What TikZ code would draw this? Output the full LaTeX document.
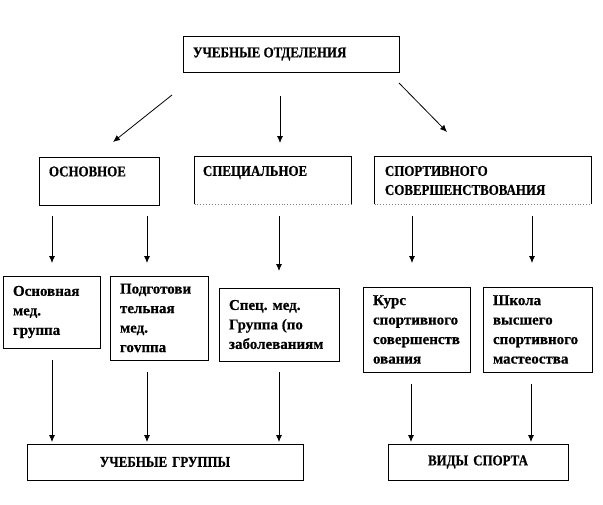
\documentclass[tikz,border=0pt]{standalone}
\usepackage{fontspec}
\setmainfont{Liberation Serif}
\newfontfamily\capsfont{Liberation Serif}[FakeStretch=0.86, FakeBold=0.6]
\newfontfamily\bodyfont{Liberation Serif}[FakeBold=0.5]
\usetikzlibrary{arrows.meta}

\tikzset{
    box/.style={draw, line width=0.9pt, inner xsep=10pt, inner ysep=0pt, align=flush left,
        font=\bodyfont\bfseries\fontsize{15}{19.5}\selectfont},
    head/.style={box, font=\capsfont\bfseries\fontsize{15}{19}\selectfont},
    arr/.style={-{Latex[length=7pt,width=6pt]}, line width=0.8pt},
}

\begin{document}
\begin{tikzpicture}[x=1pt, y=-1pt]

            \useasboundingbox (0,0) rectangle (603,504);

            % top level
            \node[head, minimum width=216pt, minimum height=36pt, text width=196pt] (otd) at (291,54) {УЧЕБНЫЕ ОТДЕЛЕНИЯ};

            % departments
            \node[head, minimum width=120pt, minimum height=48pt, text width=100pt] (osn) at (99,181) {ОСНОВНОЕ\\\phantom{О}};
            \node[head, draw=none, minimum width=156pt, minimum height=47pt, text width=140pt, inner xsep=8pt] (spec) at (273,180.5) {СПЕЦИАЛЬНОЕ\\\phantom{О}};
            \node[head, draw=none, minimum width=216pt, minimum height=47pt, text width=196pt] (sport) at (483,180.5) {СПОРТИВНОГО\\СОВЕРШЕНСТВОВАНИЯ};

            \draw[line width=0.9pt] (spec.south west) -- (spec.north west) -- (spec.north east) -- (spec.south east);
            \draw[gray, dotted, line width=0.9pt] (spec.south west) -- (spec.south east);
            \draw[line width=0.9pt] (sport.south west) -- (sport.north west) -- (sport.north east) -- (sport.south east);
            \draw[gray, dotted, line width=0.9pt] (sport.south west) -- (sport.south east);

            % groups
            \node[box, minimum width=97pt, minimum height=72pt, text width=77pt] (osngr) at (51.5,312) {Основная\\мед.\\группа};
            \node[box, minimum width=98pt, minimum height=84pt, text width=78pt] (podgr) at (159,318) {Подготови\\тельная\\мед.\\гоvппа};
            \node[box, minimum width=120pt, minimum height=73pt, text width=100pt] (specgr) at (279,324.5) {Спец. мед.\\Группа (по\\заболеваниям};
            \node[box, minimum width=107pt, minimum height=85pt, text width=87pt] (kurs) at (416.5,329.5) {Курс\\спортивного\\совершенств\\ования};
            \node[box, minimum width=109pt, minimum height=85pt, text width=89pt] (shk) at (537.5,329.5) {Школа\\высшего\\спортивного\\мастеоства};

            % bottom
            \node[head, align=center, minimum width=276pt, minimum height=36pt, text width=256pt] (uchgr) at (165,462) {УЧЕБНЫЕ ГРУППЫ};
            \node[head, align=center, minimum width=180pt, minimum height=36pt, text width=160pt] (vid) at (478,462) {ВИДЫ СПОРТА};

            % arrow ends
            \coordinate (t1) at (172,95);  \coordinate (t1e) at (113,142);
            \coordinate (t2) at (280,96);  \coordinate (t2e) at (280,143);
            \coordinate (t3) at (399,83);  \coordinate (t3e) at (447,132);

            \coordinate (m1) at (52,216);  \coordinate (m1e) at (52,263);
            \coordinate (m2) at (147,216); \coordinate (m2e) at (147,263);
            \coordinate (m3) at (279,216); \coordinate (m3e) at (279,271);
            \coordinate (m4) at (412,216); \coordinate (m4e) at (412,263);
            \coordinate (m5) at (532,216); \coordinate (m5e) at (532,263);

            \coordinate (b1) at (52,360);  \coordinate (b1e) at (52,442);
            \coordinate (b2) at (147,372); \coordinate (b2e) at (147,442);
            \coordinate (b3) at (279,372); \coordinate (b3e) at (279,442);
            \coordinate (b4) at (411,384); \coordinate (b4e) at (411,442);
            \coordinate (b5) at (531,384); \coordinate (b5e) at (531,442);

            \draw[arr] (t1)--(t1e);
            \draw[arr] (t2)--(t2e);
            \draw[arr] (t3)--(t3e);

            \draw[arr] (m1)--(m1e);
            \draw[arr] (m2)--(m2e);
            \draw[arr] (m3)--(m3e);
            \draw[arr] (m4)--(m4e);
            \draw[arr] (m5)--(m5e);

            \draw[arr] (b1)--(b1e);
            \draw[arr] (b2)--(b2e);
            \draw[arr] (b3)--(b3e);
            \draw[arr] (b4)--(b4e);
            \draw[arr] (b5)--(b5e);

\end{tikzpicture}
\end{document}
